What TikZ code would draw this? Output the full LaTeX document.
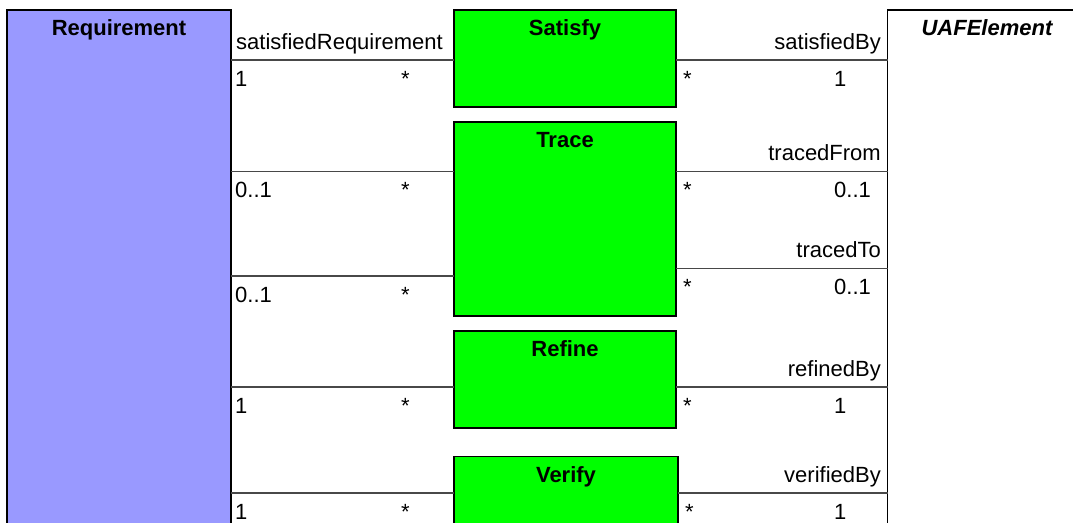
\documentclass[tikz,border=0pt]{standalone}
\usepackage{fontspec}
\setmainfont{Liberation Sans}
\definecolor{reqblue}{RGB}{153,153,255}
\definecolor{stgreen}{RGB}{0,255,0}
\definecolor{linegray}{RGB}{72,72,72}
\begin{document}
\begin{tikzpicture}[x=1pt,y=-1pt,
  box/.style={draw=black,line width=1.5pt,rectangle,anchor=north west,inner sep=0pt,outer sep=0pt},
  stereo/.style={box,fill=stgreen,minimum width=222pt},
  title/.style={anchor=base,inner sep=0pt,yshift=-25.5pt,font=\fontsize{22}{24}\selectfont\bfseries},
  conn/.style={draw=linegray,line width=1.5pt},
  lbl/.style={inner sep=0pt,font=\fontsize{22}{24}\selectfont},
  lw/.style={lbl,anchor=base west},
  le/.style={lbl,anchor=base east}]
\clip (0,0) rectangle (1073,522);
\fill[white] (0,0) rectangle (1073,522);

% classes
\node[box,fill=reqblue,minimum width=224pt,minimum height=600pt,
      label={[title]north:Requirement}] (req) at (7,10) {};
\node[box,fill=white,minimum width=199pt,minimum height=600pt,
      label={[title]north:\itshape UAFElement}] (uaf) at (887.5,10) {};

% stereotypes
\node[stereo,minimum height=97pt,label={[title]north:Satisfy}] (sat) at (454,10) {};
\node[stereo,minimum height=194pt,label={[title]north:Trace}] (tra) at (454,122) {};
\node[stereo,minimum height=97pt,label={[title]north:Refine}] (ref) at (454,331) {};
\node[stereo,minimum width=224pt,minimum height=100pt,label={[title]north:Verify}] (ver) at (454,456.5) {};

% connectors left
\draw[conn] (req.east |- 0,60) -- (sat.west |- 0,60);
\draw[conn] (req.east |- 0,171.5) -- (tra.west |- 0,171.5);
\draw[conn] (req.east |- 0,276) -- (tra.west |- 0,276);
\draw[conn] (req.east |- 0,387) -- (ref.west |- 0,387);
\draw[conn] (req.east |- 0,493) -- (ver.west |- 0,493);
% connectors right
\draw[conn] (sat.east |- 0,60) -- (uaf.west |- 0,60);
\draw[conn] (tra.east |- 0,171.5) -- (uaf.west |- 0,171.5);
\draw[conn] (tra.east |- 0,268.5) -- (uaf.west |- 0,268.5);
\draw[conn] (ref.east |- 0,387) -- (uaf.west |- 0,387);
\draw[conn] (ver.east |- 0,493) -- (uaf.west |- 0,493);

% Satisfy
\node[lw] (l1) at (236,49) {satisfiedRequirement};
\node[lw] (m1a) at (235,86) {1};
\node[lw] (s1a) at (401,86) {*};
\node[le] (r1) at (881,49) {satisfiedBy};
\node[lw] (s1b) at (683,86) {*};
\node[lw] (m1b) at (834,86) {1};

% Trace (from)
\node[lw] (m2a) at (235,197.5) {0..1};
\node[lw] (s2a) at (401,197.5) {*};
\node[le] (r2) at (881,160.5) {tracedFrom};
\node[lw] (s2b) at (683,197.5) {*};
\node[lw] (m2b) at (834,197.5) {0..1};

% Trace (to)
\node[lw] (m3a) at (235,302) {0..1};
\node[lw] (s3a) at (401,302) {*};
\node[le] (r3) at (881,257.5) {tracedTo};
\node[lw] (s3b) at (683,294.5) {*};
\node[lw] (m3b) at (834,294.5) {0..1};

% Refine
\node[lw] (m4a) at (235,413) {1};
\node[lw] (s4a) at (401,413) {*};
\node[le] (r4) at (881,376) {refinedBy};
\node[lw] (s4b) at (683,413) {*};
\node[lw] (m4b) at (834,413) {1};

% Verify
\node[lw] (m5a) at (235,519) {1};
\node[lw] (s5a) at (401,519) {*};
\node[le] (r5) at (881,482) {verifiedBy};
\node[lw] (s5b) at (685,519) {*};
\node[lw] (m5b) at (834,519) {1};
\end{tikzpicture}
\end{document}
